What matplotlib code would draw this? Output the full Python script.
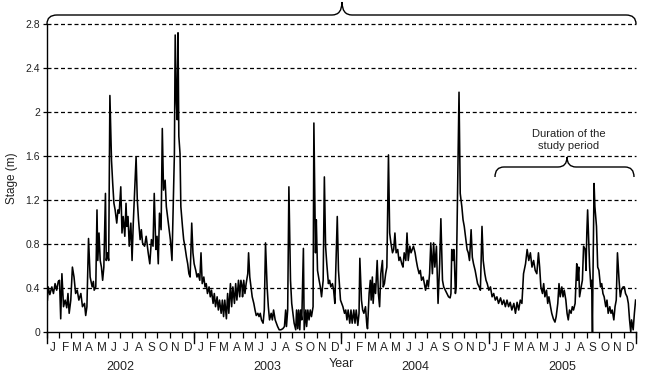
import matplotlib
matplotlib.use("Agg")
import matplotlib.pyplot as plt
import pandas as pd
from matplotlib.path import Path
from matplotlib.patches import PathPatch
from matplotlib.transforms import blended_transform_factory

# ---------------- data (day counted from 1 Jan 2002, stage in m) ----------------
days_2002 = [1, 3, 7, 12, 16, 20, 24, 28, 31, 34, 37, 41, 45, 49, 52, 55, 59, 63, 67, 71,
             75, 79, 84, 88, 93, 96, 99, 103, 107, 112, 115, 117, 121, 124, 126, 129, 132,
             135, 138, 141, 145, 147, 150, 153, 156, 160, 163, 166, 169, 173, 176, 179, 183,
             186, 189, 193, 196, 198, 201, 204, 208, 211, 214, 221, 224, 227, 231, 234, 237,
             242, 246, 251, 255, 259, 263, 266, 270, 273, 276, 279, 283, 286, 289, 293, 296,
             299, 303, 306, 310, 316, 318, 321, 323, 325, 327, 330, 332, 336, 339, 342, 346,
             349, 352, 355, 359, 362]
stage_2002 = [0.29, 0.41, 0.34, 0.41, 0.35, 0.44, 0.38, 0.46, 0.47, 0.12, 0.53, 0.23, 0.29,
              0.22, 0.35, 0.17, 0.29, 0.59, 0.50, 0.35, 0.38, 0.29, 0.35, 0.23, 0.26, 0.15,
              0.23, 0.85, 0.50, 0.41, 0.46, 0.38, 0.41, 1.11, 0.65, 0.90, 0.65, 0.59, 0.47,
              0.59, 1.26, 0.65, 0.72, 0.65, 2.15, 1.56, 1.35, 1.17, 1.11, 0.99, 1.11, 1.08,
              1.32, 0.90, 1.05, 0.87, 1.17, 0.96, 1.05, 0.78, 0.99, 0.65, 0.99, 1.59, 1.20,
              1.02, 0.84, 0.93, 0.81, 0.78, 0.87, 0.72, 0.62, 0.84, 0.78, 1.26, 0.75, 0.87,
              0.62, 1.08, 0.93, 1.85, 1.29, 1.38, 1.14, 1.05, 0.93, 0.84, 0.65, 1.62, 2.70,
              2.08, 1.93, 2.72, 1.78, 1.62, 1.14, 0.96, 0.84, 0.78, 0.68, 0.62, 0.53, 0.50,
              0.99, 0.72]

days_2003 = [365, 369, 372, 375, 379, 382, 385, 389, 392, 395, 398, 402, 405, 408, 412, 415,
             418, 422, 425, 428, 432, 435, 438, 441, 445, 448, 451, 455, 458, 461, 465, 468,
             471, 475, 478, 481, 484, 485, 488, 491, 494, 498, 500, 503, 506, 509, 513, 516,
             519, 523, 526, 529, 532, 536, 539, 542, 546, 549, 552, 556, 559, 562, 566, 569,
             572, 576, 580, 585, 589, 592, 594, 597, 600, 604, 607, 610, 613, 617, 619, 622,
             624, 627, 629, 632, 636, 638, 642, 644, 647, 650, 653, 656, 660, 662, 666, 668,
             671, 675, 678, 681, 685, 688, 691, 694, 698, 701, 704, 708, 711, 714, 720, 723,
             728]
stage_2003 = [0.62, 0.56, 0.50, 0.53, 0.47, 0.72, 0.44, 0.50, 0.41, 0.44, 0.35, 0.41, 0.32,
              0.38, 0.26, 0.35, 0.23, 0.32, 0.20, 0.29, 0.17, 0.29, 0.14, 0.29, 0.12, 0.35,
              0.17, 0.44, 0.23, 0.41, 0.26, 0.44, 0.29, 0.47, 0.32, 0.47, 0.41, 0.32, 0.47,
              0.35, 0.44, 0.53, 0.72, 0.50, 0.41, 0.32, 0.26, 0.20, 0.15, 0.17, 0.14, 0.17,
              0.11, 0.08, 0.20, 0.81, 0.41, 0.23, 0.11, 0.17, 0.11, 0.20, 0.11, 0.08, 0.05,
              0.02, 0.02, 0.03, 0.05, 0.20, 0.05, 0.20, 1.32, 0.47, 0.26, 0.17, 0.08, 0.02,
              0.20, 0.03, 0.20, 0.02, 0.20, 0.11, 0.76, 0.02, 0.20, 0.05, 0.20, 0.11, 0.20,
              0.14, 0.23, 1.90, 0.72, 1.02, 0.56, 0.47, 0.41, 0.32, 0.47, 1.41, 0.78, 0.62,
              0.44, 0.47, 0.41, 0.44, 0.38, 0.26, 1.05, 0.56, 0.29]

days_2004 = [731, 734, 738, 741, 744, 747, 751, 754, 757, 761, 764, 767, 771, 774, 776, 780,
             783, 786, 790, 793, 795, 799, 802, 804, 807, 809, 812, 815, 819, 822, 825, 828,
             832, 834, 837, 840, 843, 847, 850, 853, 857, 860, 863, 866, 870, 873, 876, 880,
             883, 886, 890, 893, 896, 900, 903, 906, 909, 913, 916, 919, 923, 926, 929, 933,
             936, 939, 943, 946, 949, 952, 956, 959, 962, 966, 970, 974, 977, 981, 984, 988,
             992, 996, 1000, 1002, 1004, 1007, 1009, 1010, 1013, 1015, 1022, 1025, 1029, 1032,
             1035, 1039, 1042, 1045, 1048, 1052, 1055, 1058, 1062, 1065, 1068, 1072, 1075,
             1079, 1082, 1086, 1089, 1092]
stage_2004 = [0.26, 0.23, 0.17, 0.20, 0.11, 0.20, 0.08, 0.20, 0.08, 0.20, 0.08, 0.20, 0.06,
              0.17, 0.67, 0.29, 0.20, 0.17, 0.23, 0.08, 0.03, 0.35, 0.47, 0.29, 0.50, 0.26,
              0.44, 0.35, 0.65, 0.35, 0.23, 0.53, 0.65, 0.41, 0.44, 0.53, 0.59, 1.61, 0.90,
              0.81, 0.72, 0.75, 0.90, 0.72, 0.75, 0.65, 0.68, 0.62, 0.59, 0.72, 0.65, 0.90,
              0.65, 0.78, 0.72, 0.75, 0.78, 0.72, 0.65, 0.59, 0.53, 0.56, 0.47, 0.50, 0.44,
              0.38, 0.47, 0.41, 0.53, 0.81, 0.53, 0.81, 0.59, 0.78, 0.26, 0.62, 1.03, 0.47,
              0.41, 0.38, 0.35, 0.32, 0.31, 0.35, 0.75, 0.65, 0.75, 0.72, 0.35, 0.41, 2.18,
              1.26, 1.14, 1.02, 0.96, 0.84, 0.75, 0.72, 0.65, 0.93, 0.68, 0.62, 0.56, 0.50,
              0.44, 0.41, 0.38, 0.96, 0.65, 0.53, 0.47, 0.44]

days_2005 = [1096, 1100, 1104, 1108, 1112, 1116, 1120, 1125, 1129, 1133, 1137, 1141, 1145,
             1149, 1153, 1158, 1162, 1166, 1170, 1174, 1178, 1182, 1187, 1191, 1195, 1199,
             1203, 1207, 1211, 1215, 1219, 1222, 1225, 1229, 1232, 1235, 1239, 1242, 1245,
             1249, 1252, 1256, 1260, 1263, 1267, 1270, 1273, 1277, 1280, 1283, 1287, 1290,
             1293, 1296, 1300, 1303, 1306, 1310, 1314, 1316, 1319, 1321, 1325, 1328, 1331,
             1335, 1337, 1339, 1341, 1344, 1346, 1349, 1351, 1353, 1354, 1357, 1359, 1363,
             1366, 1369, 1373, 1376, 1379, 1382, 1386, 1389, 1392, 1396, 1399, 1402, 1406,
             1409, 1412, 1415, 1419, 1422, 1425, 1429, 1432, 1435, 1439, 1442, 1445, 1448,
             1450, 1454, 1457, 1460]
stage_2005 = [0.38, 0.41, 0.32, 0.35, 0.29, 0.32, 0.26, 0.31, 0.25, 0.29, 0.23, 0.29, 0.23,
              0.27, 0.20, 0.26, 0.17, 0.27, 0.20, 0.29, 0.26, 0.53, 0.62, 0.75, 0.65, 0.72,
              0.59, 0.65, 0.56, 0.53, 0.72, 0.59, 0.41, 0.35, 0.44, 0.32, 0.38, 0.26, 0.32,
              0.23, 0.17, 0.12, 0.09, 0.14, 0.26, 0.44, 0.32, 0.41, 0.32, 0.38, 0.29, 0.17,
              0.11, 0.20, 0.17, 0.23, 0.20, 0.26, 0.62, 0.47, 0.59, 0.32, 0.41, 0.47, 0.78,
              0.75, 0.56, 0.90, 1.11, 0.78, 0.59, 0.41, 0.47, 0.00, 0.41, 1.35, 1.14, 0.96,
              0.59, 0.56, 0.41, 0.44, 0.35, 0.32, 0.23, 0.29, 0.17, 0.23, 0.17, 0.20, 0.11,
              0.23, 0.29, 0.72, 0.47, 0.32, 0.38, 0.41, 0.41, 0.35, 0.32, 0.26, 0.11, 0.00,
              0.11, 0.02, 0.17, 0.29]

years = ["2002", "2003", "2004", "2005"]
month_letters = ["J", "F", "M", "A", "M", "J", "J", "A", "S", "O", "N", "D"]
y_ticks = [0, 0.4, 0.8, 1.2, 1.6, 2.0, 2.4, 2.8]
y_ticklabels = ["0", "0.4", "0.8", "1.2", "1.6", "2", "2.4", "2.8"]

# ---------------- figure ----------------
plt.rcParams['font.family'] = ['Liberation Sans', 'DejaVu Sans']
W, H = 648, 379
fig = plt.figure(figsize=(W / 100, H / 100), dpi=100)
ax = fig.add_axes([47 / W, 1 - 332 / H, (636 - 47) / W, (332 - 24) / H])

days = days_2002 + days_2003 + days_2004 + days_2005
stage = stage_2002 + stage_2003 + stage_2004 + stage_2005
ax.plot(days, stage, color='black', lw=1.15, zorder=3)

ax.set_xlim(0, 1461)
ax.set_ylim(0, 2.8)

for v in y_ticks[1:]:
    ax.axhline(v, color='black', lw=0.9, ls=(0, (3.2, 2.2)), zorder=1, clip_on=False)

ax.set_yticks(y_ticks)
ax.set_yticklabels(y_ticklabels, fontsize=7.5, color='#222222')
ax.tick_params(axis='y', direction='out', length=3, width=0.9, pad=2)

start = pd.Timestamp("2002-01-01")
mstarts = pd.date_range("2002-01-01", "2006-01-01", freq="MS")
mdays = [(d - start).days for d in mstarts]
ax.set_xticks(mdays)
ax.set_xticklabels([])
ax.tick_params(axis='x', direction='out', length=4, width=0.9)

trans = blended_transform_factory(ax.transData, ax.transAxes)
axh = 332 - 24
ybound = [(pd.Timestamp(f"{y}-01-01") - start).days for y in range(2002, 2007)]
for yb in ybound:
    ax.plot([yb, yb], [0, -11 / axh], transform=trans, color='black', lw=1.0, clip_on=False)

for i in range(len(mdays) - 1):
    mid = (mdays[i] + mdays[i + 1]) / 2
    ax.text(mid, -16 / axh, month_letters[i % 12], transform=trans, ha='center', va='center',
            fontsize=8.5, color='#222222')
for i, y in enumerate(years):
    mid = (ybound[i] + ybound[i + 1]) / 2
    ax.text(mid, -35 / axh, y, transform=trans, ha='center', va='center', fontsize=9,
            color='#222222')
ax.text(ybound[2], -32 / axh, "Year", transform=trans, ha='center', va='center', fontsize=9,
        color='#222222')

for s in ['top', 'right']:
    ax.spines[s].set_visible(False)
for s in ['left', 'bottom']:
    ax.spines[s].set_linewidth(1.0)

fig.text(12 / W, 1 - 178 / H, "Stage (m)", rotation=90, ha='center', va='center', fontsize=8.5,
         color='#222222')


def brace(x0, x1, xm, yend, ybar, ytip, r):
    pts = [(x0, yend), (x0, ybar), (x0 + r, ybar), (xm - r, ybar), (xm, ybar), (xm, ytip),
           (xm, ybar), (xm + r, ybar), (x1 - r, ybar), (x1, ybar), (x1, yend)]
    codes = [Path.MOVETO, Path.CURVE3, Path.CURVE3, Path.LINETO, Path.CURVE3, Path.CURVE3,
             Path.CURVE3, Path.CURVE3, Path.LINETO, Path.CURVE3, Path.CURVE3]
    verts = [(px / W, 1 - py / H) for px, py in pts]
    fig.add_artist(PathPatch(Path(verts, codes), transform=fig.transFigure, fill=False,
                             lw=1.0, edgecolor='black'))


brace(47, 636, 342, 24, 15, 2, 10)
brace(495, 634, 567, 177, 167, 157, 9)
fig.text(569 / W, 1 - 140 / H, "Duration of the\nstudy period", ha='center', va='center',
         fontsize=8, linespacing=1.35, color='#222222')

fig.savefig("out.png", dpi=100)
